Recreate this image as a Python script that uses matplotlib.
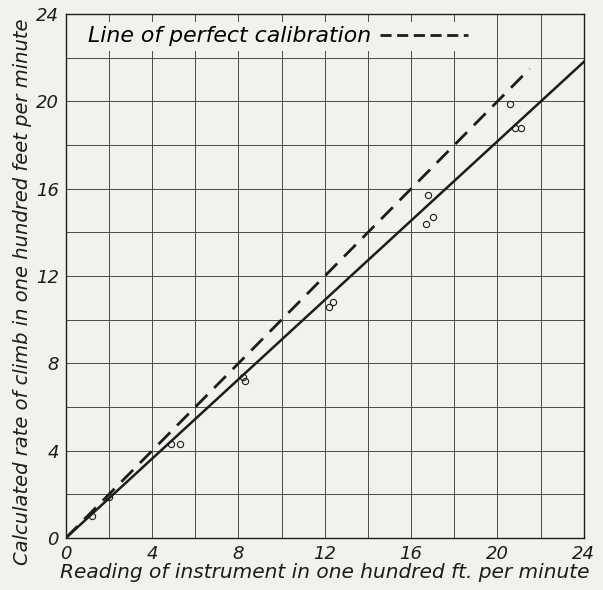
import numpy as np
import matplotlib
matplotlib.use("Agg")
from matplotlib import pyplot as plt
from matplotlib.lines import Line2D

# data (hundreds of ft per minute)
instrument = [1.2, 2.0, 4.9, 5.3, 8.2, 8.3, 12.2, 12.4, 16.7, 16.8, 17.0, 20.6, 20.8, 21.1]
calculated = [1.0, 1.9, 4.3, 4.3, 7.4, 7.2, 10.6, 10.8, 14.4, 15.7, 14.7, 19.9, 18.8, 18.8]

fit_x = [0, 24.1]
fit_y = [0, 21.9]
perfect_x = [0, 21.5]
perfect_y = [0, 21.5]

ticks = [0, 4, 8, 12, 16, 20, 24]
ink = "#1c1c1c"
paper = "#f1f2ee"

plt.rcParams["font.family"] = "DejaVu Sans"
plt.rcParams["font.style"] = "oblique"

fig = plt.figure(figsize=(6.03, 5.90), dpi=100, facecolor=paper)
ax = fig.add_axes([0.109, 0.088, 0.859, 0.888])
ax.set_facecolor(paper)

ax.set_xlim(0, 24)
ax.set_ylim(0, 24)
ax.set_xticks(np.arange(0, 25, 2))
ax.set_yticks(np.arange(0, 25, 2))
ax.set_xticklabels([str(t) if t in ticks else "" for t in range(0, 25, 2)], fontsize=13, color=ink)
ax.set_yticklabels([str(t) if t in ticks else "" for t in range(0, 25, 2)], fontsize=13, color=ink)
ax.tick_params(length=0, pad=5)
ax.grid(True, color="#4a4a4a", linewidth=0.7)
ax.set_axisbelow(True)
for s in ax.spines.values():
    s.set_color(ink)
    s.set_linewidth(1.0)

ax.plot(fit_x, fit_y, "-", color=ink, linewidth=1.8)
ax.plot(perfect_x, perfect_y, "--", color=ink, linewidth=2.0, dashes=(6, 3.5))
ax.plot(instrument, calculated, "o", markersize=4.5, markerfacecolor="none",
        markeredgecolor=ink, markeredgewidth=0.8)

handle = Line2D([0], [0], color=ink, linestyle="--", linewidth=2.0, dashes=(4, 2))
leg = ax.legend([handle], ["Line of perfect calibration"], loc="upper left",
                bbox_to_anchor=(0.035, 0.985), markerfirst=False, frameon=True,
                fontsize=15.8, handlelength=4.0, handletextpad=0.4,
                borderpad=0.2, borderaxespad=0.0)
leg.get_frame().set_facecolor(paper)
leg.get_frame().set_edgecolor("none")
leg.get_frame().set_alpha(1.0)

ax.set_xlabel("Reading of instrument in one hundred ft. per minute", fontsize=14.5,
              color=ink, labelpad=0)
ax.set_ylabel("Calculated rate of climb in one hundred feet per minute", fontsize=14,
              color=ink)
ax.yaxis.set_label_coords(-0.065, 0.47)

fig.savefig("out.png", dpi=100, facecolor=paper)
